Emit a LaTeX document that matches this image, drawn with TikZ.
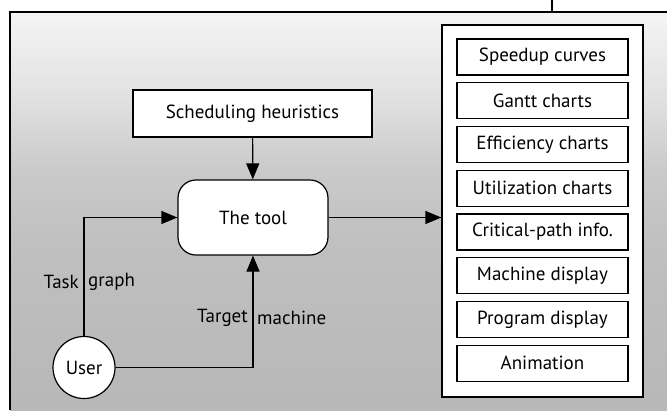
\documentclass[tikz,border=0pt]{standalone}
\usepackage{fontspec}
\setmainfont{PT Sans}
\usetikzlibrary{arrows.meta,positioning}
% panel tone: light at the top, darker further down
\pgfdeclareverticalshading{panel}{100bp}{
  color(0bp)=(gray!56); color(25bp)=(gray!56); color(45bp)=(gray!50);
  color(55bp)=(gray!42); color(64bp)=(gray!24); color(75bp)=(gray!8);
  color(100bp)=(gray!8)}
\begin{document}
\begin{tikzpicture}[x=1pt,y=-1pt,
  font=\fontsize{19}{22}\selectfont,
  box/.style={draw=black,line width=1.2pt,fill=white,inner sep=0pt},
  item/.style={box,minimum width=171pt,minimum height=36pt},
  flow/.style={line width=1.2pt,-{Triangle[length=16pt,width=13pt]}},
  lbl/.style={inner sep=0pt}]
\useasboundingbox (0,0) rectangle (667,410);
% stippled panel
\shade[shading=panel] (10,12) rectangle (667,410);
\draw[line width=1.2pt] (10,410) -- (10,12) -- (667,12);
\draw[line width=1.2pt] (552,0) -- (552,12);

% list of outputs
\node[box,minimum width=201pt,minimum height=372pt] (out) at (542.5,211) {};
\foreach \t [count=\i from 0] in {Speedup curves,Gantt charts,Efficiency charts,Utilization charts,Critical-path info.,Machine display,Program display,Animation}
  \node[item] (o\i) at (542.5,57+43.75*\i) {\t};

% main nodes
\node[box,minimum width=239pt,minimum height=47pt] (sched) at (252.5,113.5) {Scheduling heuristics};
\node[box,rounded corners=18pt,minimum width=150pt,minimum height=75pt] (tool) at (253,217.5) {The tool};
\node[box,circle,minimum size=62pt] (user) at (84,367.5) {User};

% connectors
\coordinate (tg) at (user.north |- tool.west);
\coordinate (tm) at (tool.south |- user.east);
\draw[flow] (sched) -- (tool);
\draw[flow] (user.north) -- (tg) -- (tool.west);
\draw[flow] (user.east) -- (tm) -- (tool.south);
\draw[flow] (tool.east) -- (tool.east -| out.west);

% connector labels
\node[lbl,anchor=east] at (79,282) {Task};
\node[lbl,anchor=west] at (88,282) {graph};
\node[lbl,anchor=east] at (248,318) {Target};
\node[lbl,anchor=west] at (257,318) {machine};
\end{tikzpicture}
\end{document}
